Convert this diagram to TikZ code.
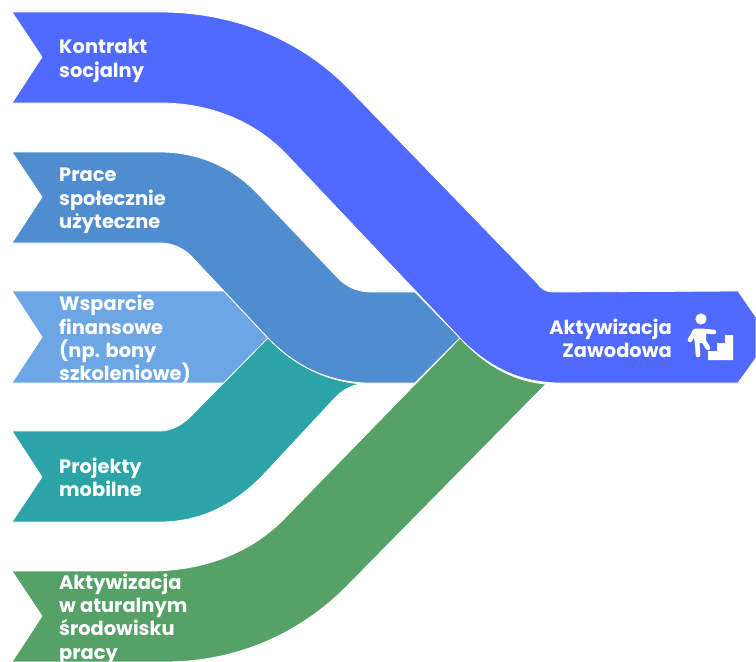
\documentclass[tikz,border=0pt]{standalone}
\usepackage{fontspec}
\setmainfont{Poppins}
\definecolor{bandkontrakt}{HTML}{4F6BFF}
\definecolor{bandprace}{HTML}{4F8DCF}
\definecolor{bandwsparcie}{HTML}{6CA6E4}
\definecolor{bandprojekty}{HTML}{2BA3A7}
\definecolor{bandaktywizacja}{HTML}{56A168}
\tikzset{
  band/.style={draw=white, line width=0.8pt, line join=miter},
  lbl/.style={text=white, anchor=west, align=left, inner sep=0pt, font=\fontsize{19.4}{23.3}\selectfont\bfseries},
  icon/.style={fill=white, draw=none},
  limb/.style={draw=white, line width=4.6pt, line cap=round, line join=round}
}

\begin{document}
\begin{tikzpicture}[x=1pt, y=-1pt]
\useasboundingbox (0, 0) rectangle (756, 662);
% wsparcie
\fill[bandwsparcie, band] (12, 291) -- (224, 291) -- (268, 338) -- (224, 383) -- (12, 383) -- (42, 337) -- cycle;
% projekty
\fill[bandprojekty, band] (12, 431) -- (160, 431) .. controls (172, 431) and (184, 424) .. (193, 414) -- (268, 338)
  .. controls (294, 365) and (325, 381) .. (362, 384) .. controls (350, 385) and (341, 391) .. (333, 400)
  -- (265, 473) .. controls (235, 505) and (200, 522) .. (160, 522) -- (12, 522) -- (42, 477) -- cycle;
% prace
\fill[bandprace, band] (12, 152) -- (160, 152) .. controls (198, 152) and (232, 167) .. (257, 193) -- (337, 277)
  .. controls (346, 287) and (358, 292) .. (371, 292) -- (415, 292) -- (460, 338) -- (415, 383) -- (365, 383)
  .. controls (325, 381) and (294, 365) .. (268, 338) -- (193, 258) .. controls (184, 248) and (172, 243) .. (160, 243)
  -- (12, 243) -- (42, 197) -- cycle;
% aktywizacja w srodowisku
\fill[bandaktywizacja, band] (12, 571) -- (150, 571) .. controls (200, 571) and (248, 555) .. (283, 520) -- (460, 338)
  .. controls (482, 362) and (510, 381) .. (546, 384) -- (350, 583) .. controls (300, 635) and (235, 662) .. (165, 662)
  -- (12, 662) -- (42, 616) -- cycle;
% kontrakt
\fill[bandkontrakt, band] (12, 12) -- (160, 12) .. controls (232, 12) and (300, 38) .. (350, 90) -- (537, 283)
  .. controls (541, 289) and (546, 292) .. (553, 292) -- (738, 291) -- (756, 317) -- (756, 358) -- (738, 383) -- (560, 383)
  .. controls (520, 383) and (488, 367) .. (460, 338) -- (287, 155) .. controls (254, 120) and (208, 103) .. (160, 103)
  -- (12, 103) -- (42, 57) -- cycle;
\node[lbl](kontrakt) at (59, 61) {Kontrakt\\socjalny};
\node[lbl](prace) at (59, 201) {Prace\\społecznie\\użyteczne};
\node[lbl](wsparcie) at (59, 340) {Wsparcie\\finansowe\\(np. bony\\szkoleniowe)};
\node[lbl](projekty) at (59, 477.5) {Projekty\\mobilne};
\node[lbl](aktywizacja) at (59, 619) {Aktywizacja\\w aturalnym\\środowisku\\pracy};
\node[lbl, align=right, anchor=east](zawodowa) at (672, 338.5) {Aktywizacja\\Zawodowa};
% icon
\fill[icon] (701, 319) circle (5.6);
\fill[icon] (708, 360) -- (733, 360) -- (733, 335) -- (725, 335) -- (725, 343) -- (717, 343) -- (717, 351) -- (708, 351) -- cycle;
\draw[limb] (690, 340) -- (695, 331) -- (703, 331) -- (714, 332);
\fill[icon] (693, 330) -- (706, 329) -- (706, 342) -- (695, 344) -- cycle;
\draw[limb] (697, 340) -- (698, 355);
\draw[limb] (703, 340) -- (708, 348);
\end{tikzpicture}
\end{document}
